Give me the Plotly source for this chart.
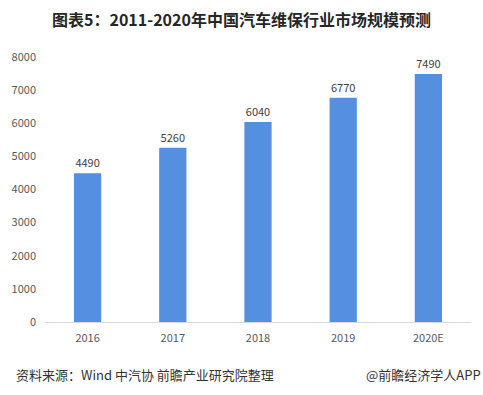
import plotly.graph_objects as go

categories = ["2016", "2017", "2018", "2019", "2020E"]
values = [4490, 5260, 6040, 6770, 7490]
y_ticks = [0, 1000, 2000, 3000, 4000, 5000, 6000, 7000, 8000]

title_text = "图表5：2011-2020年中国汽车维保行业市场规模预测"
source_text = "资料来源：Wind 中汽协 前瞻产业研究院整理"
brand_text = "@前瞻经济学人APP"

font_family = "Noto Sans CJK SC, Microsoft YaHei, sans-serif"

L, R, T, B = 38, 12, 57, 73
W, H = 483, 395
pw, ph = W - L - R, H - T - B

fig = go.Figure()
fig.add_trace(go.Bar(
    x=categories, y=values,
    marker=dict(color="#5590E0", line=dict(width=0)),
    text=[str(v) for v in values],
    textposition="outside",
    textfont=dict(size=11, color="#404040"),
    cliponaxis=False,
))

fig.update_layout(
    width=W, height=H,
    margin=dict(l=L, r=R, t=T, b=B),
    paper_bgcolor="white", plot_bgcolor="white",
    font=dict(family=font_family, color="#595959", size=11),
    bargap=0.68,
    showlegend=False,
    title=dict(text="<b>" + title_text + "</b>", x=0.5, xanchor="center",
               y=1 - 20 / H, yanchor="middle",
               font=dict(size=16, color="#262626", family=font_family)),
    xaxis=dict(showline=True, linecolor="#D9D9D9", linewidth=1,
               ticks="", tickfont=dict(size=11, color="#595959"),
               ticklabelstandoff=6, showgrid=False),
    yaxis=dict(range=[0, 8000], tickvals=y_ticks, showgrid=False,
               zeroline=False, showline=False, ticks="",
               tickfont=dict(size=11, color="#595959"), ticklabelstandoff=8),
)

foot_y = -(374 - (H - B)) / ph
fig.add_annotation(text=source_text, xref="paper", yref="paper",
                   x=(7 - L) / pw, y=foot_y, xanchor="left", yanchor="middle",
                   showarrow=False, borderpad=0,
                   font=dict(size=13, color="#333333", family=font_family))
fig.add_annotation(text=brand_text, xref="paper", yref="paper",
                   x=(482 - L) / pw, y=foot_y, xanchor="right", yanchor="middle",
                   showarrow=False, borderpad=0,
                   font=dict(size=13, color="#333333", family=font_family))

fig.write_html("out.html", config={"displayModeBar": False},
               post_script="document.body.style.margin='0';document.body.style.overflow='hidden';")
